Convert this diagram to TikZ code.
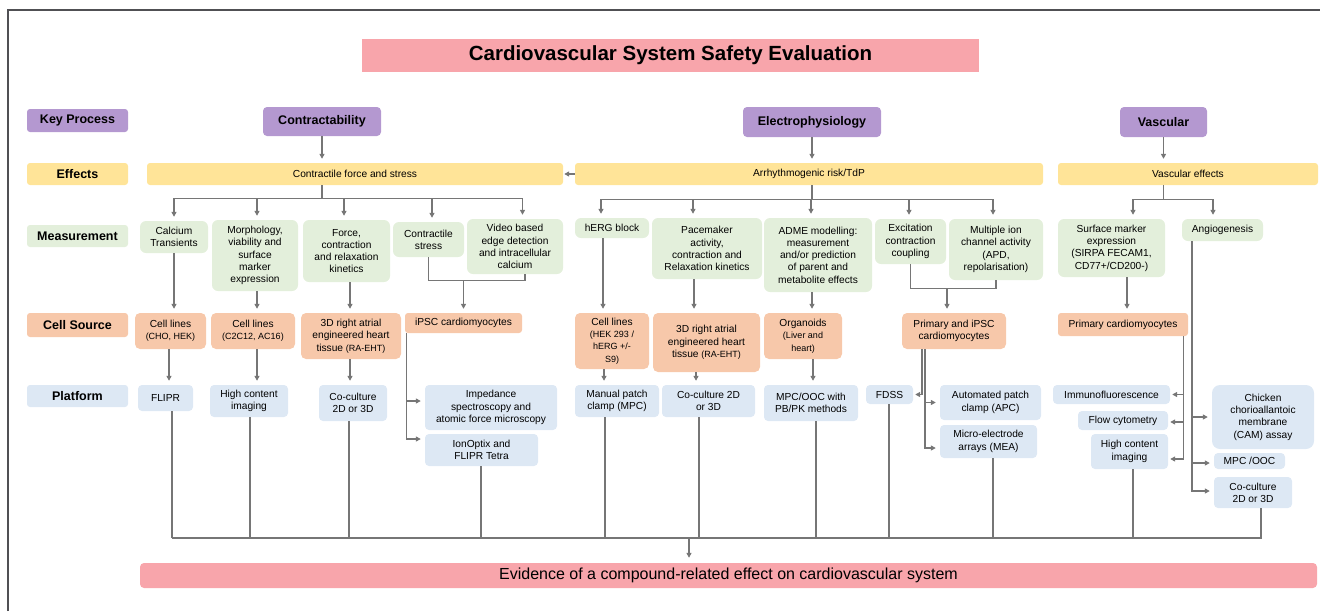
\documentclass[tikz,border=0pt]{standalone}
\usepackage{fontspec}
\setmainfont{Liberation Sans}
\usetikzlibrary{arrows.meta}
\definecolor{pinkbar}{RGB}{248,165,171}
\definecolor{purp}{RGB}{180,152,208}
\definecolor{yel}{RGB}{255,228,152}
\definecolor{grn}{RGB}{227,239,219}
\definecolor{org}{RGB}{247,200,170}
\definecolor{blu}{RGB}{221,232,244}
\definecolor{lin}{RGB}{118,118,118}
\definecolor{frm}{RGB}{80,80,84}
\def\smallfont{\fontsize{10.2}{12.3}\selectfont}
\def\subfont{\fontsize{9}{11}\selectfont}
\def\headfont{\fontsize{12.5}{14}\selectfont\bfseries}
\def\titlefont{\fontsize{20.5}{24}\selectfont\bfseries}
\def\evfont{\fontsize{16}{19}\selectfont}

\begin{document}
\begin{tikzpicture}[x=1pt, y=-1pt,
		box/.style={rounded corners=3pt, inner sep=0pt, align=center, font=\smallfont, text=black},
		wh/.style 2 args={minimum width=#1pt, minimum height=#2pt},
		lbl/.style={box, font=\headfont},
		head/.style={box, fill=purp, font=\headfont, rounded corners=4pt},
		eff/.style={box, fill=yel},
		meas/.style={box, fill=grn, rounded corners=6pt},
		src/.style={box, fill=org, rounded corners=5pt},
		plat/.style={box, fill=blu, rounded corners=4pt},
		conn/.style={draw=lin, line width=1.3pt},
		arr/.style={conn, -{Triangle[length=5pt,width=5pt]}, shorten >=4pt}]
		\useasboundingbox (0,0) rectangle (1320,611);
		\draw[line width=1.5pt, draw=frm] (8,611) -- (8,10) -- (1320,10);

		\node[box, fill=pinkbar, rounded corners=0pt, font=\titlefont, wh={617}{33}] (ttl) at (670.5,55.5) {Cardiovascular System Safety Evaluation};

		% row labels
		\node[lbl, fill=purp, wh={101}{23}] (kp) at (77.5,120.5) {Key Process};
		\node[lbl, fill=yel,  wh={101}{22}] (ef) at (77.5,174)   {Effects};
		\node[lbl, fill=grn,  wh={101}{22}] (ms) at (77.5,236)   {Measurement};
		\node[lbl, fill=org,  wh={101}{24}] (cs) at (77.5,325)   {Cell Source};
		\node[lbl, fill=blu,  wh={101}{22}] (pf) at (77.5,396)   {Platform};

		% key processes and effects
		\node[head, wh={118}{29}] (contr) at (322,121.5)  {Contractability};
		\node[head, wh={138}{30}] (elec)  at (812,122)    {Electrophysiology};
		\node[head, wh={87}{30}]  (vasc)  at (1163.5,122) {Vascular};
		\node[eff, wh={416}{22}] (cfs)  at (355,174)  {Contractile force and stress};
		\node[eff, wh={468}{22}] (arrh) at (809,174)  {Arrhythmogenic risk/TdP};
		\node[eff, wh={260}{22}] (vef)  at (1188,174) {Vascular effects};

		% measurement
		\node[meas, wh={68}{32}]  (calc)    at (174,237)    {Calcium\\Transients};
		\node[meas, wh={86}{71}]  (morph)   at (255,255.5)  {Morphology,\\viability and\\surface\\marker\\expression};
		\node[meas, wh={87}{62}]  (force)   at (346.5,251)  {Force,\\contraction\\and relaxation\\kinetics};
		\node[meas, wh={71}{35}]  (cstress) at (428.5,239.5){Contractile\\stress};
		\node[meas, wh={96}{55}]  (video)   at (515,246.5)  {Video based\\edge detection\\and intracellular\\calcium};
		\node[meas, wh={74}{20}]  (herg)    at (612,228)    {hERG block};
		\node[meas, wh={110}{61}] (pace)    at (707,248.5)  {Pacemaker\\activity,\\contraction and\\Relaxation kinetics};
		\node[meas, wh={108}{74}] (adme)    at (818,255)    {ADME modelling:\\measurement\\and/or prediction\\of parent and\\metabolite effects};
		\node[meas, wh={71}{45}]  (exc)     at (910.5,241.5){Excitation\\contraction\\coupling};
		\node[meas, wh={94}{61}]  (multi)   at (996,249.5)  {Multiple ion\\channel activity\\(APD,\\repolarisation)};
		\node[meas, wh={107}{58}] (surf)    at (1111.5,248) {Surface marker\\expression\\(SIRPA FECAM1,\\CD77+/CD200-)};
		\node[meas, wh={81}{22}]  (angio)   at (1222.5,230) {Angiogenesis};

		% cell source
		\node[src, wh={71}{36}]  (cl1)  at (170.5,331)  {Cell lines\\{\subfont (CHO, HEK)}};
		\node[src, wh={84}{36}]  (cl2)  at (253,331)    {Cell lines\\{\subfont (C2C12, AC16)}};
		\node[src, wh={100}{46}] (ra1)  at (351,336)    {3D right atrial\\engineered heart\\tissue {\subfont (RA-EHT)}};
		\node[src, wh={117}{20}, rounded corners=3pt] (ipsc) at (463.5,323) {iPSC cardiomyocytes};
		\node[src, wh={74}{56}]  (cl3)  at (612,341)    {Cell lines\\{\subfont (HEK 293 /}\\{\subfont hERG +/-}\\{\subfont S9)}};
		\node[src, wh={107}{59}] (ra2)  at (706.5,342.5){3D right atrial\\engineered heart\\tissue {\subfont (RA-EHT)}};
		\node[src, wh={78}{46}]  (org)  at (803,336)    {Organoids\\{\subfont (Liver and}\\{\subfont heart)}};
		\node[src, wh={104}{36}] (pic)  at (954,331)    {Primary and iPSC\\cardiomyocytes};
		\node[src, wh={130}{23}, rounded corners=3pt] (pcm) at (1123,324.5) {Primary cardiomyocytes};

		% platform
		\node[plat, wh={55}{26}]  (flipr) at (165.5,398)  {FLIPR};
		\node[plat, wh={78}{32}]  (hci1)  at (249,401)    {High content\\imaging};
		\node[plat, wh={68}{36}]  (cc1)   at (353,403)    {Co-culture\\2D or 3D};
		\node[plat, wh={132}{45}] (imp)   at (491,407.5)  {Impedance\\spectroscopy and\\atomic force microscopy};
		\node[plat, wh={113}{32}] (ion)   at (481.5,450)  {IonOptix and\\FLIPR Tetra};
		\node[plat, wh={84}{32}]  (mpc)   at (617,401)    {Manual patch\\clamp (MPC)};
		\node[plat, wh={93}{32}]  (cc2)   at (708.5,401)  {Co-culture 2D\\or 3D};
		\node[plat, wh={94}{36}]  (pbpk)  at (811,403)    {MPC/OOC with\\PB/PK methods};
		\node[plat, wh={47}{19}]  (fdss)  at (889.5,394.5){FDSS};
		\node[plat, wh={101}{35}] (apc)   at (990.5,402.5){Automated patch\\clamp (APC)};
		\node[plat, wh={97}{33}]  (mea)   at (988.5,441.5){Micro-electrode\\arrays (MEA)};
		\node[plat, wh={117}{19}] (immu)  at (1111.5,394.5){Immunofluorescence};
		\node[plat, wh={90}{19}]  (flow)  at (1123,420.5) {Flow cytometry};
		\node[plat, wh={77}{35}]  (hci2)  at (1129.5,451.5){High content\\imaging};
		\node[plat, wh={102}{64}, rounded corners=8pt] (cam) at (1263,417) {Chicken\\chorioallantoic\\membrane\\(CAM) assay};
		\node[plat, wh={71}{16}]  (mpo)   at (1249.5,461) {MPC /OOC};
		\node[plat, wh={78}{31}]  (cc3)   at (1253,492.5) {Co-culture\\2D or 3D};

		\node[box, fill=pinkbar, rounded corners=4pt, font=\evfont, wh={1177}{25}] (evid) at (728.5,575.5) {Evidence of a compound-related effect on cardiovascular system};

		% key process to effects
		\foreach \n/\e in {contr/cfs, elec/arrh, vasc/vef}
			\draw[arr] (\n) -- (\n |- \e.north);
		\draw[arr, shorten >=1pt] (arrh) -- (cfs);

		% effects to measurement
		\draw[conn] (contr |- cfs.south) -- ++(0,13) coordinate (cj);
		\foreach \n/\dx in {calc/0, morph/2, force/-2.5, cstress/3.5, video/7.5}
			\draw[arr] (cj) -| ([xshift=\dx pt]\n.north);
		\draw[conn] (elec |- arrh.south) -- ++(0,14) coordinate (ej);
		\foreach \n/\dx in {herg/-11, pace/-14, adme/-7, exc/-1.5, multi/-3}
			\draw[arr] (ej) -| ([xshift=\dx pt]\n.north);
		\draw[conn] (vasc |- vef.south) -- ++(0,14) coordinate (vj);
		\foreach \n/\dx in {surf/21.5, angio/-9.5}
			\draw[arr] (vj) -| ([xshift=\dx pt]\n.north);

		% measurement to cell source, cell source to platform
		\foreach \a/\b/\dx in {calc/cl1/0, morph/cl2/2, force/ra1/3.5, herg/cl3/-9, pace/ra2/-13, adme/org/-6,
				cl1/flipr/-1.5, cl2/hci1/4, ra1/cc1/-1, cl3/mpc/-8, ra2/cc2/-10.5, org/pbpk/10}
			\draw[arr] ([xshift=\dx pt]\a.south) -- ([xshift=\dx pt]\a.south |- \b.north);
		\draw[conn] (cstress.south) -- ++(0,23) coordinate (sj) -| ([xshift=10pt]video.south);
		\draw[arr] (sj -| ipsc.north) -- (ipsc.north);
		\draw[conn] (exc.south) -- ++(0,24) coordinate (xj) -| (multi.south);
		\draw[arr] ([xshift=-7pt]pic.north |- xj) -- ([xshift=-7pt]pic.north);
		\draw[arr] ([xshift=4pt]pcm.north |- surf.south) -- ([xshift=4pt]pcm.north);

		% split branches
		\draw[arr] ([xshift=2pt]ipsc.south west) |- ([yshift=6.5pt]imp.west);
		\draw[arr] ([xshift=2pt]ipsc.south west) |- ([yshift=11pt]ion.west);
		\draw[arr, shorten >=2pt] ([xshift=-32pt]pic.south) |- (fdss.east);
		\draw[arr] ([xshift=-29pt]pic.south) |- (apc.west);
		\draw[arr] ([xshift=-29pt]pic.south) |- ([yshift=-6.5pt]mea.west);
		\foreach \n/\dy in {immu/0, flow/-1.5, hci2/-7.5}
			\draw[arr, shorten >=2pt] ([xshift=-5pt]pcm.south east) |- ([yshift=\dy pt]\n.east);
		\foreach \n/\dy in {cam/0, mpo/-2, cc3/1.5}
			\draw[arr] ([xshift=-30.5pt]angio.south) |- ([yshift=\dy pt]\n.west);

		% platform to evidence
		\coordinate (rail) at (172,538);
		\foreach \n/\dx in {flipr/6.5, hci1/1, cc1/-4, ion/-0.5, mpc/-12, cc2/-9.5, pbpk/5, fdss/-0.5, mea/4.5, hci2/3.5, cc3/8}
			\draw[conn] (rail) -| ([xshift=\dx pt]\n.south);
		\draw[arr, shorten >=5pt] (rail) -| ([xshift=-39.5pt]evid.north);
	\end{tikzpicture}
\end{document}
